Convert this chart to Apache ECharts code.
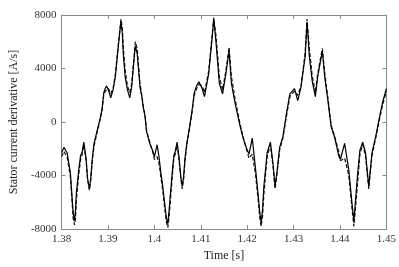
<!DOCTYPE html>
<html>
<head>
<meta charset="utf-8">
<script src="https://cdn.jsdelivr.net/npm/echarts@6/dist/echarts.min.js"></script>
<style>html,body{margin:0;padding:0;background:#fff}#c{width:399px;height:267px}</style>
</head>
<body>
<div id="c"></div>
<script>
// Time [s]
const time = [
  1.3800,1.3805,1.3812,1.3819,1.3822,1.3825,1.3828,1.3830,1.3832,1.3837,1.3841,1.3844,1.3848,1.3853,1.3856,1.3860,1.3863,1.3866,1.3870,1.3877,1.3884,1.3887,1.3891,1.3894,1.3897,1.3901,1.3906,1.3911,1.3916,1.3921,1.3926,1.3928,1.3931,1.3933,1.3937,1.3942,1.3947,1.3951,1.3956,1.3959,1.3963,1.3966,1.3969,1.3973,1.3976,1.3980,1.3983,1.3990,1.3997,1.4000,
  1.4006,1.4010,1.4014,1.4018,1.4022,1.4026,1.4029,1.4032,1.4035,1.4039,1.4042,1.4045,1.4049,1.4053,1.4057,1.4060,1.4063,1.4066,1.4070,1.4076,1.4081,1.4086,1.4091,1.4096,1.4103,1.4108,1.4117,1.4124,1.4128,1.4133,1.4140,1.4147,1.4154,1.4161,1.4166,1.4174,1.4185,1.4192,1.4199,1.4204,
  1.4211,1.4218,1.4223,1.4227,1.4230,1.4233,1.4236,1.4243,1.4250,1.4256,1.4260,1.4264,1.4270,1.4277,1.4285,1.4292,1.4302,1.4309,1.4316,1.4319,1.4325,1.4329,1.4334,1.4340,1.4347,1.4352,1.4362,1.4367,1.4374,1.4381,1.4388,1.4398,1.4401,
  1.4410,1.4419,1.4426,1.4430,1.4437,1.4443,1.4449,1.4455,1.4462,1.4469,1.4477,1.4484,1.4492,1.4500
];
// Measured (solid) [A/s]
const measured = [
  -2300,-1900,-2300,-3800,-5300,-6800,-7400,-6600,-5300,-3600,-2500,-2300,-1500,-2800,-4200,-5000,-4200,-2800,-1600,-600,400,900,2200,2500,2700,2400,1800,2400,3400,5200,6900,7500,6600,5100,3400,2400,1800,2600,4600,5700,5100,3900,2600,1900,1100,400,-700,-1600,-2200,-2600,
  -1700,-2600,-3800,-4800,-6000,-7200,-7600,-6500,-5200,-3600,-2500,-2200,-1500,-2600,-4100,-4800,-4100,-2700,-1600,-350,800,2200,2700,3000,2500,1900,3600,6100,7700,5900,2900,2100,3600,5300,2900,1400,-350,-1300,-2000,-2400,
  -1200,-3500,-5200,-6700,-7500,-6600,-4800,-2300,-1500,-3200,-4800,-3800,-1900,-1100,700,2100,2500,1600,2600,3400,4900,7500,4900,3100,1900,3400,5300,3400,1600,-350,-1100,-2600,-2800,
  -1600,-3600,-6100,-7400,-4300,-2100,-1500,-2300,-4800,-2300,-1100,150,1500,2500
];
// Estimated (dashed) [A/s]
const estimated = [
  -2600,-2200,-2600,-4100,-5600,-7200,-7700,-7200,-5800,-3900,-2800,-2500,-1700,-2900,-4300,-5100,-4300,-3000,-1800,-700,300,800,2000,2300,2400,2500,2100,2500,3600,5400,7000,7700,7000,5600,3900,2700,2200,2800,4800,6000,5500,4200,2900,2000,1200,500,-600,-1500,-2300,-2800,
  -2600,-3100,-4100,-5100,-6400,-7500,-7900,-7000,-5700,-3900,-2700,-2400,-1700,-2800,-4200,-5000,-4300,-2900,-1700,-450,700,2000,2500,2800,2700,2200,3800,6300,7800,6400,3400,2400,3800,5600,3400,1700,-200,-1200,-2100,-2700,
  -2400,-3900,-5600,-7100,-7800,-7100,-5400,-2600,-1700,-3400,-5000,-4000,-2100,-1200,500,1900,2300,2000,2700,3500,5200,7700,5500,3500,2200,3600,5500,3700,1800,-250,-1000,-2300,-2900,
  -2700,-4000,-6500,-7800,-5000,-2400,-1700,-2500,-5000,-2500,-1200,0,1300,2300
];
const xTicks = {min: 1.38, max: 1.45, interval: 0.01};
const yTicks = {min: -8000, max: 8000, interval: 4000};

const chart = echarts.init(document.getElementById('c'), null, {renderer: 'canvas'});
const font = 'Liberation Serif';
const axisLine = {show: true, onZero: false, lineStyle: {color: '#8a8a8a', width: 1}};
const tick = {show: true, inside: true, length: 4, lineStyle: {color: '#8a8a8a'}};
chart.setOption({
  animation: false,
  backgroundColor: '#fff',
  grid: {left: 47.7, right: 10.7, top: 15, bottom: 38, containLabel: false},
  xAxis: [
    {type: 'value', min: xTicks.min, max: xTicks.max, interval: xTicks.interval,
     name: 'Time [s]', nameLocation: 'middle', nameGap: 20,
     nameTextStyle: {fontFamily: font, fontSize: 12, color: '#222'},
     axisLine: axisLine, axisTick: tick, splitLine: {show: false},
     axisLabel: {fontFamily: font, fontSize: 11, color: '#333', margin: 5,
       formatter: v => String(Math.round(v * 100) / 100)}},
    {type: 'value', position: 'top', min: xTicks.min, max: xTicks.max, interval: xTicks.interval,
     axisLine: axisLine, axisTick: tick, axisLabel: {show: false}, splitLine: {show: false}}
  ],
  yAxis: [
    {type: 'value', min: yTicks.min, max: yTicks.max, interval: yTicks.interval,
     name: 'Stator current derivative [A/s]', nameLocation: 'middle', nameGap: 33,
     nameTextStyle: {fontFamily: font, fontSize: 12, color: '#222'},
     axisLine: axisLine, axisTick: tick, splitLine: {show: false},
     axisLabel: {fontFamily: font, fontSize: 11, color: '#333', margin: 5,
       formatter: v => String(v)}},
    {type: 'value', position: 'right', min: yTicks.min, max: yTicks.max, interval: yTicks.interval,
     axisLine: axisLine, axisTick: tick, axisLabel: {show: false}, splitLine: {show: false}}
  ],
  series: [
    {type: 'line', name: 'estimated', data: time.map((t, i) => [t, estimated[i]]),
     showSymbol: false, lineStyle: {color: '#111', width: 1.2, type: [4, 2]}, z: 2},
    {type: 'line', name: 'measured', data: time.map((t, i) => [t, measured[i]]),
     showSymbol: false, lineStyle: {color: '#000', width: 1.2}, z: 3}
  ]
});
</script>
</body>
</html>
